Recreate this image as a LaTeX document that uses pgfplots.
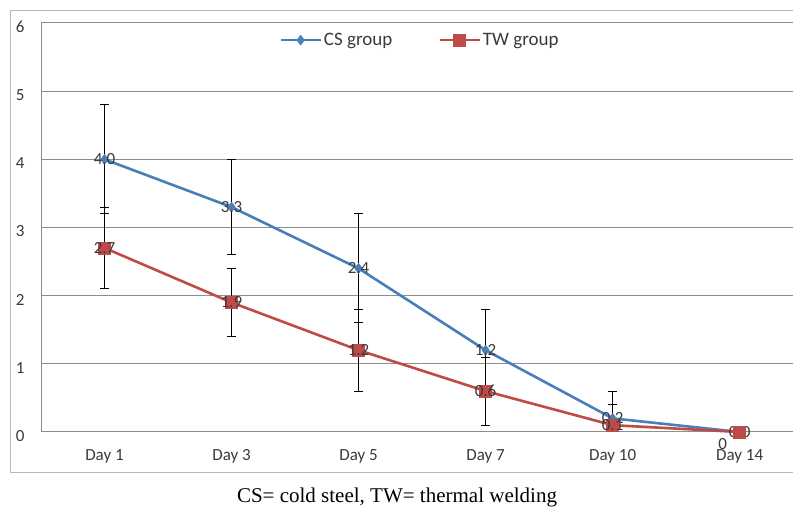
\documentclass[border=0pt]{standalone}
\usepackage{fontspec}
\setmainfont{Carlito}
\newfontfamily\capfont{Liberation Serif}
\usepackage{pgfplots}
\usepackage{pgfplotstable}
\pgfplotsset{compat=1.18}
\definecolor{csblue}{HTML}{4A7EBB}
\definecolor{twred}{HTML}{BE4B48}
\definecolor{gridgray}{HTML}{8E8E8E}
\definecolor{labgray}{HTML}{3A3A3A}

% x = day index, y = mean score, ep/em = error bar up/down
\pgfplotstableread{
x y ep em lab
0 4.0 0.8 0.8 4.0
1 3.3 0.7 0.7 3.3
2 2.4 0.8 0.8 2.4
3 1.2 0.6 0.6 1.2
4 0.2 0.4 0.2 0.2
5 0.0 0.0 0.0 0.0
}\csdata
\pgfplotstableread{
x y ep em lab
0 2.7 0.6 0.6 2.7
1 1.9 0.5 0.5 1.9
2 1.2 0.6 0.6 1.2
3 0.6 0.5 0.5 0.6
4 0.1 0.3 0.1 0.1
5 0.0 0.0 0.0 {}
}\twdata

\begin{document}
\begin{tikzpicture}[x=1pt,y=1pt]
  \useasboundingbox (0,0) rectangle (793,511);
  \draw[gray!55, line width=1pt] (10,38) rectangle (812,500);
  \begin{axis}[
    at={(41pt,79pt)}, anchor=south west,
    scale only axis, width=752pt, height=409pt,
    xmin=-0.5, xmax=5.42, ymin=0, ymax=6,
    xtick={0,...,5},
    xticklabels={Day 1,Day 3,Day 5,Day 7,Day 10,Day 14},
    ytick={0,...,6},
    axis x line=bottom, axis y line=left,
    axis line style={-, draw=gridgray, line width=1pt},
    ymajorgrids, major grid style={draw=gridgray, line width=1pt},
    major tick length=0pt,
    /pgf/number format/assume math mode=true,
    tick label style={font=\fontsize{17}{19}\selectfont, text=labgray},
    xticklabel style={yshift=-14pt},
    yticklabel style={xshift=-13pt, yshift=-4pt},
    clip=false,
    legend style={at={(axis description cs:0.504,0.958)}, anchor=center,
      draw=none, fill=none, legend columns=2,
      font=\fontsize{19}{22}\selectfont, text=labgray,
      /tikz/every even column/.append style={column sep=44pt}},
    legend image code/.code={\draw[mark repeat=2,mark phase=2]
      plot coordinates {(0pt,0pt)(20pt,0pt)(40pt,0pt)};},
    error bars/y dir=both, error bars/y explicit,
    error bars/error bar style={black, line width=1pt},
    error bars/error mark options={rotate=90, mark size=4.5pt, black, line width=1pt},
    point meta=explicit symbolic,
    nodes near coords,
    every node near coord/.append style={anchor=center,
      font=\fontsize{17}{19}\selectfont, text=labgray},
  ]
    \addplot[draw=csblue, line width=2.6pt, mark=diamond*, mark size=5pt,
      mark options={fill=csblue, draw=csblue, line width=0.5pt}]
      table[x=x, y=y, y error plus=ep, y error minus=em, meta=lab] {\csdata};
    \addlegendentry{CS group}
    \addplot[draw=twred, line width=2.6pt, mark=square*, mark size=6pt,
      mark options={fill=twred, draw=twred, line width=0.5pt}]
      table[x=x, y=y, y error plus=ep, y error minus=em, meta=lab] {\twdata};
    \addlegendentry{TW group}
    % label of the last TW point sits below left, as in the source
    \addplot[draw=none, mark=none, forget plot,
      every node near coord/.append style={xshift=-17pt, yshift=-12pt}]
      coordinates {(5,0.0)[0]};
  \end{axis}
  \node[font=\capfont\fontsize{21}{24}\selectfont, text=black] at (397,14)
    {CS= cold steel, TW= thermal welding};
\end{tikzpicture}
\end{document}
